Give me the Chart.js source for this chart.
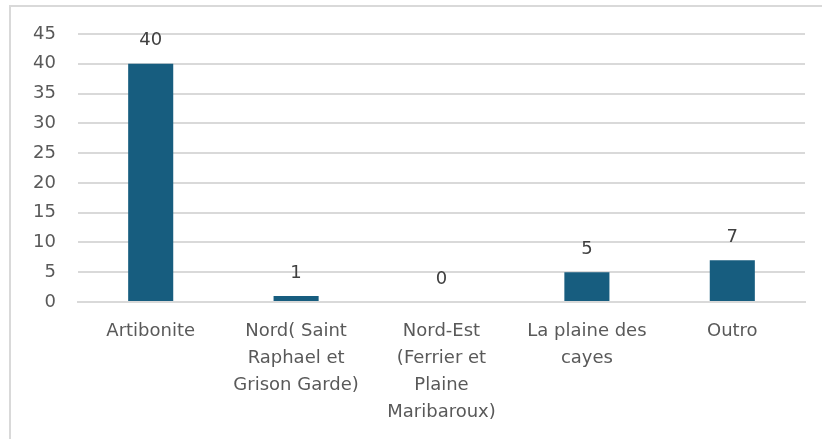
<!DOCTYPE html>
<html>
<head>
<meta charset="utf-8">
<script src="https://cdn.jsdelivr.net/npm/chart.js@4"></script>
<style>
    html, body { margin: 0; padding: 0; background: #fff; }
    #frame {
        position: absolute; left: 9px; top: 5px; width: 830px; height: 450px;
        border-top: 2px solid #d9d9d9; border-left: 2px solid #d9d9d9;
    }
    #myChart { position: absolute; left: 0; top: 0; }
</style>
</head>
<body>
<div id="frame"></div>
<canvas id="myChart" width="822" height="439"></canvas>
<script>
const categories = [
    'Artibonite',
    ['Nord( Saint', 'Raphael et', 'Grison Garde)'],
    ['Nord-Est', '(Ferrier et', 'Plaine', 'Maribaroux)'],
    ['La plaine des', 'cayes'],
    'Outro'
];
const counts = [40, 1, 0, 5, 7];
const yTicks = [0, 5, 10, 15, 20, 25, 30, 35, 40, 45];

const fontFamily = "'DejaVu Sans', sans-serif";

// value labels above each bar
const valueLabels = {
    id: 'valueLabels',
    afterDatasetsDraw(chart) {
        const ctx = chart.ctx;
        const meta = chart.getDatasetMeta(0);
        ctx.save();
        ctx.font = '18px ' + fontFamily;
        ctx.fillStyle = '#404040';
        ctx.textAlign = 'center';
        ctx.textBaseline = 'middle';
        meta.data.forEach((bar, i) => {
            ctx.fillText(String(counts[i]), bar.x, bar.y - 23);
        });
        ctx.restore();
    }
};

Chart.defaults.animation = false;

const config = {
    type: 'bar',
    data: {
        labels: categories,
        datasets: [{
            data: counts,
            backgroundColor: '#175d7f',
            categoryPercentage: 1,
            barPercentage: 0.31
        }]
    },
    options: {
        responsive: false,
        layout: { padding: { top: 34, right: 17, left: 0, bottom: 0 } },
        plugins: {
            legend: { display: false },
            tooltip: { enabled: false }
        },
        scales: {
            x: {
                grid: { display: false, drawTicks: false },
                border: { display: true, color: '#d9d9d9', width: 2 },
                ticks: {
                    color: '#595959',
                    font: { family: fontFamily, size: 18, lineHeight: 1.5 },
                    padding: 16,
                    maxRotation: 0,
                    autoSkip: false
                },
                afterFit: (scale) => { scale.height = 137; }
            },
            y: {
                min: 0,
                max: 45,
                afterBuildTicks: (scale) => { scale.ticks = yTicks.map(v => ({ value: v })); },
                grid: { color: '#d9d9d9', lineWidth: 2, drawTicks: false },
                border: { display: false },
                ticks: {
                    color: '#595959',
                    font: { family: fontFamily, size: 18 },
                    padding: 22
                },
                afterFit: (scale) => { scale.width = 78; }
            }
        }
    },
    plugins: [valueLabels]
};

new Chart(document.getElementById('myChart'), config);
</script>
</body>
</html>
